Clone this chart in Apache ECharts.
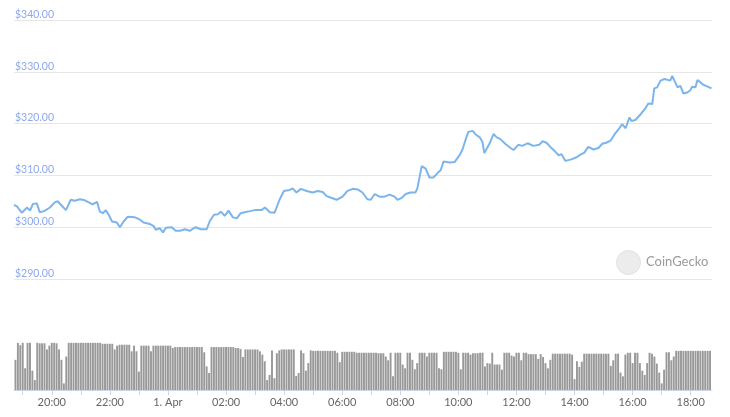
<!DOCTYPE html>
<html>
<head>
<meta charset="utf-8">
<script src="https://cdn.jsdelivr.net/npm/echarts@6/dist/echarts.min.js"></script>
<style>html,body{margin:0;padding:0;background:#fff;}#chart{width:730px;height:417px;}</style>
</head>
<body>
<div id="chart"></div>
<script>
// ---- data ----
const priceTimes = [
'03-31 18:44','03-31 18:50','03-31 19:00','03-31 19:11','03-31 19:17','03-31 19:23','03-31 19:31','03-31 19:37','03-31 19:46','03-31 19:58',
'03-31 20:08','03-31 20:14','03-31 20:23','03-31 20:31','03-31 20:41','03-31 20:49','03-31 21:00','03-31 21:10','03-31 21:20','03-31 21:26',
'03-31 21:35','03-31 21:41','03-31 21:47','03-31 21:53','03-31 21:59','03-31 22:06','03-31 22:16','03-31 22:22','03-31 22:30','03-31 22:38',
'03-31 22:53','03-31 23:03','03-31 23:11','03-31 23:24','03-31 23:32','03-31 23:36','03-31 23:44','03-31 23:51','03-31 23:57','04-01 00:09',
'04-01 00:17','04-01 00:26','04-01 00:36','04-01 00:46','04-01 00:58','04-01 01:09','04-01 01:21','04-01 01:27','04-01 01:36','04-01 01:44',
'04-01 01:50','04-01 01:58','04-01 02:06','04-01 02:15','04-01 02:23','04-01 02:31','04-01 02:39','04-01 02:50','04-01 03:00','04-01 03:14',
'04-01 03:21','04-01 03:31','04-01 03:35','04-01 03:41','04-01 03:51','04-01 04:00','04-01 04:12','04-01 04:18','04-01 04:26','04-01 04:35',
'04-01 04:47','04-01 04:59','04-01 05:10','04-01 05:20','04-01 05:28','04-01 05:40','04-01 05:49','04-01 06:01','04-01 06:11','04-01 06:22',
'04-01 06:32','04-01 06:42','04-01 06:52','04-01 06:59','04-01 07:07','04-01 07:17','04-01 07:27','04-01 07:38','04-01 07:48','04-01 07:54',
'04-01 08:02','04-01 08:11','04-01 08:21','04-01 08:31','04-01 08:35','04-01 08:44','04-01 08:52','04-01 09:00','04-01 09:08','04-01 09:17',
'04-01 09:23','04-01 09:29','04-01 09:41','04-01 09:52','04-01 10:02','04-01 10:08','04-01 10:14','04-01 10:20','04-01 10:29','04-01 10:35',
'04-01 10:43','04-01 10:49','04-01 10:53','04-01 11:04','04-01 11:12','04-01 11:18','04-01 11:26','04-01 11:36','04-01 11:47','04-01 11:53',
'04-01 12:03','04-01 12:11','04-01 12:22','04-01 12:34','04-01 12:46','04-01 12:53','04-01 13:01','04-01 13:09','04-01 13:19','04-01 13:26',
'04-01 13:32','04-01 13:36','04-01 13:40','04-01 13:52','04-01 14:03','04-01 14:11','04-01 14:19','04-01 14:27','04-01 14:38','04-01 14:48',
'04-01 14:56','04-01 15:04','04-01 15:13','04-01 15:21','04-01 15:31','04-01 15:37','04-01 15:44','04-01 15:52','04-01 15:56','04-01 16:04',
'04-01 16:14','04-01 16:25','04-01 16:31','04-01 16:39','04-01 16:43','04-01 16:49','04-01 16:56','04-01 17:04','04-01 17:16','04-01 17:20',
'04-01 17:24','04-01 17:31','04-01 17:37','04-01 17:43','04-01 17:51','04-01 17:57','04-01 18:01','04-01 18:08','04-01 18:12','04-01 18:18',
'04-01 18:24','04-01 18:32','04-01 18:41'
];
const priceValues = [
304.3,304.0,302.8,303.8,303.2,304.5,304.6,302.9,303.1,303.8,
304.8,305.0,304.1,303.3,305.3,305.1,305.4,305.2,304.7,304.4,
304.9,303.0,302.7,303.3,302.4,301.1,300.9,300.0,301.1,302.0,
301.9,301.5,300.9,300.6,300.2,299.5,299.8,299.0,299.9,300.0,
299.3,299.3,299.6,299.3,300.0,299.6,299.6,301.1,302.4,302.5,
303.0,302.2,303.2,301.9,301.7,302.7,302.9,303.1,303.3,303.3,
303.8,302.9,303.2,302.8,305.3,307.0,307.2,307.5,306.7,307.4,
307.0,306.7,307.0,306.8,306.0,305.6,305.3,305.9,307.0,307.4,
307.3,306.7,305.4,305.3,306.4,305.9,305.9,306.3,305.9,305.3,
305.6,306.4,306.7,306.7,307.5,311.8,311.3,309.6,309.6,310.5,
311.0,312.7,312.5,312.6,313.9,315.0,316.8,318.4,318.6,317.9,
317.4,316.5,314.3,316.2,318.0,317.4,317.0,316.1,315.3,314.9,
315.9,315.7,316.2,315.7,315.9,316.6,316.3,315.5,314.6,313.9,
314.1,314.4,312.8,313.1,313.5,314.0,314.4,315.5,315.0,315.3,
316.1,316.3,316.7,317.9,319.1,319.9,319.1,321.2,320.5,320.7,
321.7,323.0,323.9,323.8,326.8,327.0,328.3,328.6,328.3,329.2,
328.9,327.0,327.3,325.8,326.0,326.4,327.1,327.0,328.4,328.0,
327.5,327.2,326.8
];
// volume bars, one per 5 minutes starting at volumeStart (relative units)
const volumeStart = '03-31 18:45';
const volumeStepMinutes = 5;
const volumeValues = [
64,100,95,100,46,100,100,41,21,100,99,99,99,86,94,100,100,99,86,64,14,71,
100,100,100,100,100,100,100,100,100,100,100,100,100,100,
98,98,98,98,98,
86,94,96,96,96,96,96,82,94,82,39,94,94,94,94,82,
94,94,94,94,94,94,94,94,
89,
91,91,91,91,91,91,91,91,91,91,91,91,
80,50,36,
91,91,91,91,91,91,91,91,91,91,
89,89,
87,70,
86,86,86,86,86,86,
82,75,61,21,32,84,25,78,84,
86,86,86,86,86,86,
30,36,84,78,41,57,84,
83,83,83,83,83,83,83,83,83,83,
79,59,
81,81,81,81,81,81,
79,79,79,79,79,79,79,79,79,
78,78,78,
71,63,79,29,79,79,79,54,46,79,79,64,44,57,79,79,79,71,79,79,79,79,46,44,
81,81,81,81,81,81,
79,44,79,79,79,75,78,78,78,
79,79,50,57,56,79,54,54,54,43,79,79,79,73,71,79,79,63,79,79,76,76,76,76,66,76,70,57,46,64,
77,77,77,77,77,77,77,77,
75,23,61,49,60,
77,77,77,77,77,77,77,77,77,77,77,
51,63,77,77,37,29,75,79,79,57,79,79,57,41,32,57,79,77,71,56,37,14,43,80,80,63,71,
83,83,83,83,83,83,83,83,83,83,83,83,83,83,83
];
const priceTicks = [290, 300, 310, 320, 330, 340];

// ---- helpers ----
function parseT(s) {
  const [md, hm] = s.split(' ');
  const [mo, d] = md.split('-').map(Number);
  const [h, mi] = hm.split(':').map(Number);
  return new Date(2020, mo - 1, d, h, mi).getTime();
}
const priceData = priceTimes.map((t, i) => [parseT(t), priceValues[i]]);
const v0 = parseT(volumeStart);
const volumeData = volumeValues.map((v, i) => [v0 + i * volumeStepMinutes * 60000, v]);
const xMin = parseT(priceTimes[0]);
const xMax = v0 + (volumeValues.length - 1) * volumeStepMinutes * 60000 + 120000;
const TWO_H = 2 * 3600 * 1000;

function timeLabel(val) {
  const d = new Date(val);
  const h = d.getHours(), m = d.getMinutes();
  if (m !== 0 || h % 2 !== 0) return '';
  if (h === 0) return '1. Apr';
  return (h < 10 ? '0' : '') + h + ':00';
}

const chart = echarts.init(document.getElementById('chart'), null, {renderer: 'canvas'});
chart.setOption({
  animation: false,
  backgroundColor: '#ffffff',
  grid: [
    {left: 14, right: 18, top: 20, bottom: 138},
    {left: 14, right: 18, top: 340, bottom: 27}
  ],
  xAxis: [
    {type: 'time', gridIndex: 0, min: xMin, max: xMax, show: false, splitLine: {show: false}},
    {type: 'time', gridIndex: 1, min: xMin, max: xMax,
      minInterval: TWO_H, maxInterval: TWO_H,
      axisLine: {show: true, lineStyle: {color: '#ccd6eb', width: 1}},
      axisTick: {show: true, length: 5, lineStyle: {color: '#ccd6eb'}},
      axisLabel: {color: '#666666', fontSize: 11, fontFamily: 'Lato', margin: 7, formatter: timeLabel, showMinLabel: false, showMaxLabel: false},
      splitLine: {show: false}}
  ],
  yAxis: [
    {type: 'value', gridIndex: 0, min: 290, max: 340, interval: 10,
      axisLine: {show: false}, axisTick: {show: false},
      splitLine: {lineStyle: {color: '#e6e6e6', width: 1}},
      axisLabel: {inside: true, margin: 1, verticalAlign: 'bottom', padding: [0, 0, 0, 0],
        color: '#8ea8ea', fontSize: 10.5, fontFamily: 'Lato',
        formatter: v => priceTicks.includes(v) ? '$' + v.toFixed(2) : ''}},
    {type: 'value', gridIndex: 1, min: 0, max: 106, show: false, splitLine: {show: false}}
  ],
  graphic: [
    {type: 'circle', left: 616, top: 250, shape: {r: 12}, style: {fill: '#ececec', stroke: '#e2e2e2', lineWidth: 1}, z: 1},
    {type: 'text', left: 646, top: 255, style: {text: 'CoinGecko', fill: '#9a9a9a', font: '13px Lato'}, z: 1}
  ],
  series: [
    {type: 'line', xAxisIndex: 0, yAxisIndex: 0, data: priceData, showSymbol: false,
      lineStyle: {color: '#7cb5ec', width: 2}, z: 5},
    {type: 'bar', xAxisIndex: 1, yAxisIndex: 1, data: volumeData, barWidth: '80%',
      itemStyle: {color: '#999999'}}
  ]
});
</script>
</body>
</html>
